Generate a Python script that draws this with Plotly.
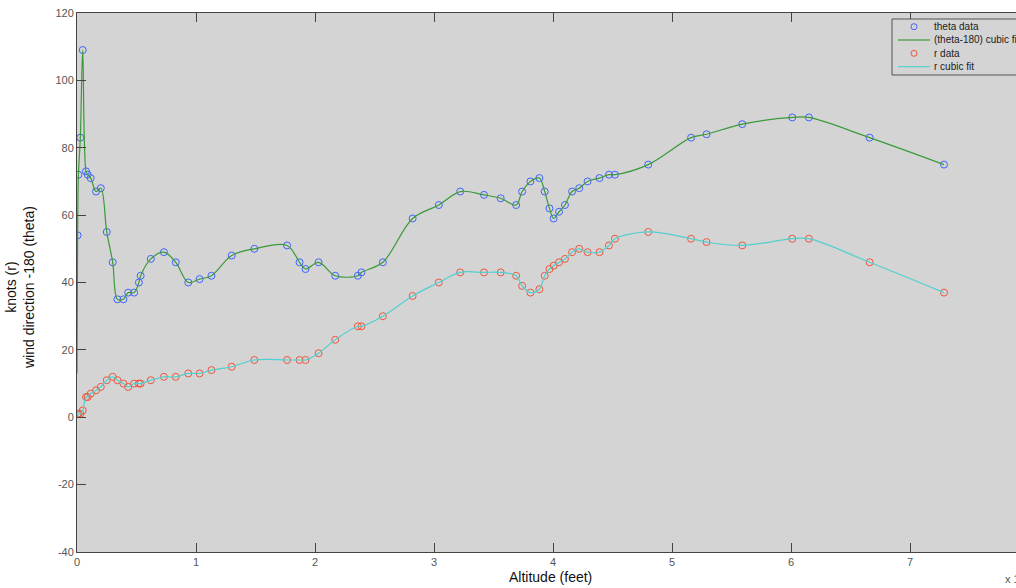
import plotly.graph_objects as go

# Altitude in units of 10^4 feet
altitude = [0.005, 0.012, 0.028, 0.048, 0.076, 0.09, 0.115, 0.16, 0.20,
            0.25, 0.30, 0.34, 0.39, 0.43, 0.48, 0.52, 0.535, 0.62, 0.73,
            0.83, 0.935, 1.03, 1.13, 1.30, 1.49, 1.765, 1.87, 1.92, 2.03,
            2.17, 2.36, 2.39, 2.57, 2.82, 3.04, 3.22, 3.42, 3.56, 3.69,
            3.74, 3.81, 3.885, 3.93, 3.97, 4.005, 4.05, 4.10, 4.16, 4.22,
            4.29, 4.39, 4.47, 4.52, 4.80, 5.16, 5.29, 5.59, 6.01, 6.15,
            6.66, 7.285]

# wind direction - 180 (degrees)
theta = [54, 72, 83, 109, 73, 72, 71, 67, 68,
         55, 46, 35, 35, 37, 37, 40, 42, 47, 49,
         46, 40, 41, 42, 48, 50, 51, 46, 44, 46,
         42, 42, 43, 46, 59, 63, 67, 66, 65, 63,
         67, 70, 71, 67, 62, 59, 61, 63, 67, 68,
         70, 71, 72, 72, 75, 83, 84, 87, 89, 89,
         83, 75]

# wind speed (knots)
r = [1, 1, 1, 2, 6, 6, 7, 8, 9,
     11, 12, 11, 10, 9, 10, 10, 10, 11, 12,
     12, 13, 13, 14, 15, 17, 17, 17, 17, 19,
     23, 27, 27, 30, 36, 40, 43, 43, 43, 42,
     39, 37, 38, 42, 44, 45, 46, 47, 49, 50,
     49, 49, 51, 53, 55, 53, 52, 51, 53, 53,
     46, 37]

# fitted curves start at ground level
fit_start_alt = 0.0
theta_fit_start = 13
r_fit_start = 1

y_ticks = [-40, -20, 0, 20, 40, 60, 80, 100, 120]
y_tick_labels = ["-40", "-20", "0", "20", "40", "60", "80", "100", "120"]
x_ticks = [0, 1, 2, 3, 4, 5, 6, 7]
x_tick_labels = ["0", "1", "2", "3", "4", "5", "6", "7"]

legend_labels = ["theta data", "(theta-180) cubic fit", "r data", "r cubic fit"]

FONT = "Arial, Liberation Sans, Helvetica, sans-serif"
BLUE = "#3f63ff"
RED = "#f0553c"
GREEN = "#3a9a3a"
CYAN = "#52cfcf"
PLOT_BG = "#d4d4d4"
AXIS = "#444444"

W, H = 1016, 588
L, T, B = 77, 13, 36
PW, PH = W - L, H - T - B


def px_x(p):
    return (p - L) / PW


def px_y(p):
    return (H - B - p) / PH


fig = go.Figure()
fig.add_trace(go.Scatter(
    x=altitude, y=theta, mode="markers", name=legend_labels[0], showlegend=False,
    marker=dict(symbol="circle-open", size=7, color=BLUE, line=dict(width=1, color=BLUE)),
))
fig.add_trace(go.Scatter(
    x=[fit_start_alt] + altitude, y=[theta_fit_start] + theta, mode="lines",
    name=legend_labels[1], showlegend=False,
    line=dict(color=GREEN, width=1.2, shape="spline", smoothing=1.0),
))
fig.add_trace(go.Scatter(
    x=altitude, y=r, mode="markers", name=legend_labels[2], showlegend=False,
    marker=dict(symbol="circle-open", size=7, color=RED, line=dict(width=1, color=RED)),
))
fig.add_trace(go.Scatter(
    x=[fit_start_alt] + altitude, y=[r_fit_start] + r, mode="lines",
    name=legend_labels[3], showlegend=False,
    line=dict(color=CYAN, width=1.2, shape="spline", smoothing=1.0),
))

fig.update_layout(
    width=W, height=H,
    margin=dict(l=L, r=0, t=T, b=B, autoexpand=False),
    paper_bgcolor="white", plot_bgcolor=PLOT_BG,
    font=dict(family=FONT, size=11, color="#555555"),
    showlegend=False,
)
fig.update_xaxes(
    range=[0, 7.89], tickvals=x_ticks, ticktext=x_tick_labels,
    ticks="inside", ticklen=9, tickcolor=AXIS, tickwidth=1,
    showline=True, linecolor=AXIS, linewidth=1, mirror="allticks",
    showgrid=False, zeroline=False, automargin=False,
    tickfont=dict(family=FONT, size=11, color="#555555"),
)
fig.update_yaxes(
    range=[-40, 120], tickvals=y_ticks, ticktext=y_tick_labels,
    ticks="inside", ticklen=9, tickcolor=AXIS, tickwidth=1,
    showline=True, linecolor=AXIS, linewidth=1, mirror=False,
    showgrid=False, zeroline=False, automargin=False,
    tickfont=dict(family=FONT, size=11, color="#555555"),
)

# axis titles
fig.add_annotation(
    text="Altitude (feet)", xref="paper", yref="paper",
    x=px_x(550), y=px_y(577), xanchor="center", yanchor="middle", showarrow=False,
    font=dict(family=FONT, size=14, color="#111111"),
)
fig.add_annotation(
    text="knots (r)<br>wind direction -180 (theta)", xref="paper", yref="paper",
    x=px_x(20), y=px_y(288), xanchor="center", yanchor="middle", showarrow=False,
    textangle=-90, font=dict(family=FONT, size=14, color="#111111"),
)
fig.add_annotation(
    text="x 10<sup>4</sup>", xref="paper", yref="paper",
    x=px_x(1003), y=px_y(578), xanchor="left", yanchor="middle", showarrow=False,
    font=dict(family=FONT, size=11, color="#555555"),
)

# legend box (runs past the right edge, as in the original)
fig.add_shape(type="rect", xref="paper", yref="paper",
              x0=px_x(892), x1=px_x(1040), y0=px_y(75), y1=px_y(19),
              fillcolor=PLOT_BG, line=dict(color="#555555", width=1), layer="above")
rows = [26.7, 40, 53.3, 66.7]
for i, (lab, ypix) in enumerate(zip(legend_labels, rows)):
    yc = px_y(ypix)
    if i in (0, 2):
        col = BLUE if i == 0 else RED
        fig.add_shape(type="circle", xref="paper", yref="paper",
                      xsizemode="pixel", ysizemode="pixel",
                      xanchor=px_x(914), yanchor=yc,
                      x0=-3, x1=3, y0=-3, y1=3,
                      line=dict(color=col, width=1), layer="above")
    else:
        col = GREEN if i == 1 else CYAN
        fig.add_shape(type="line", xref="paper", yref="paper",
                      x0=px_x(898), x1=px_x(930), y0=yc, y1=yc,
                      line=dict(color=col, width=1.2), layer="above")
    fig.add_annotation(
        text=lab, xref="paper", yref="paper",
        x=px_x(932), y=yc, xanchor="left", yanchor="middle", showarrow=False,
        font=dict(family=FONT, size=10, color="#222222"),
    )

fig.write_html(
    "out.html",
    config={"displayModeBar": False},
    post_script="document.body.style.margin='0';document.body.style.overflow='hidden';",
)
